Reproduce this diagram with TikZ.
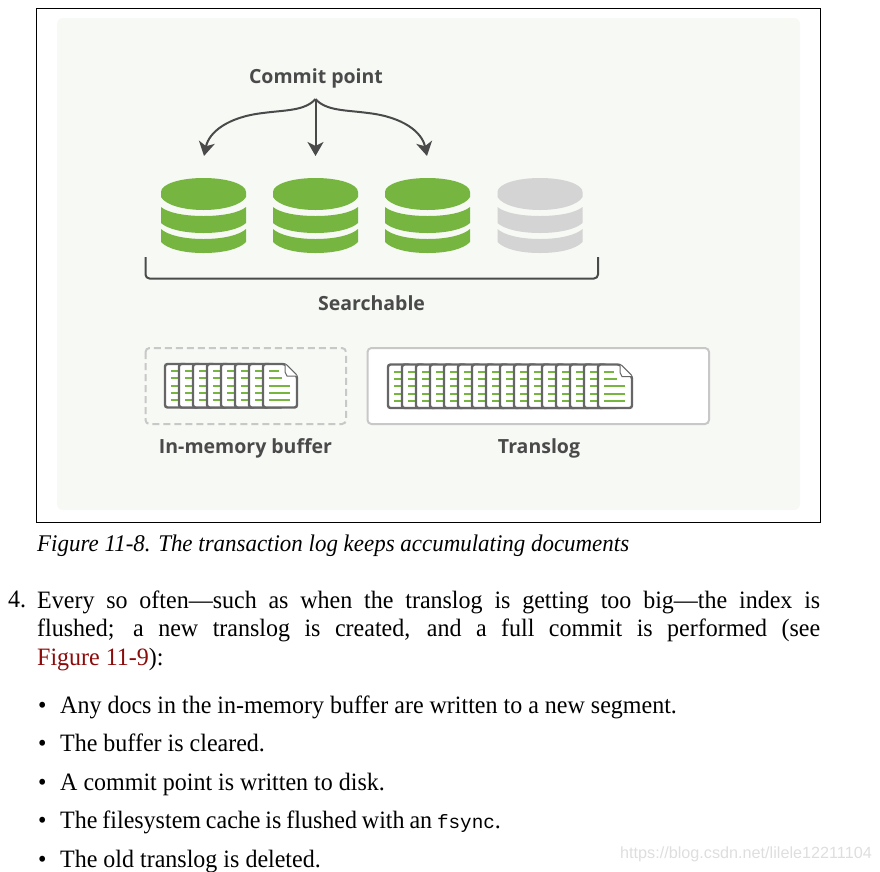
\documentclass[tikz,border=0pt]{standalone}
\usepackage{fontspec}
\setmainfont[FakeStretch=0.96]{Liberation Serif}
\setsansfont{Open Sans}
\setmonofont{Liberation Mono}
\newfontfamily\markfont{Liberation Sans}
\usetikzlibrary{arrows.meta}
\definecolor{panelbg}{HTML}{F7F9F5}
\definecolor{labelgrey}{HTML}{4A4A4A}
\definecolor{leafgreen}{HTML}{76B53F}
\definecolor{pagegrey}{HTML}{666666}
\definecolor{boxgrey}{HTML}{C8C8C8}
\definecolor{linkred}{HTML}{8B0A0A}
\tikzset{
  label/.style={text=labelgrey,font=\sffamily\bfseries\fontsize{19.5}{24}\selectfont,inner sep=0pt},
  body/.style={font=\fontsize{25}{28.6}\selectfont,inner sep=0pt,anchor=base west},
  fork/.style={draw=labelgrey,line width=2pt,-{Stealth[length=14pt,width=16pt,inset=4pt]}},
  holder/.style={draw=boxgrey,line width=2pt,rounded corners=4pt},
  pics/segment/.style={code={
    \fill[#1] (-42.5,14) .. controls (-42.5,6) and (-23.5,0) .. (0,0)
      .. controls (23.5,0) and (42.5,6) .. (42.5,14) -- (42.5,19)
      .. controls (38,27) and (20,32) .. (0,32)
      .. controls (-20,32) and (-38,27) .. (-42.5,19) -- cycle;
    \fill[#1] (-42.5,29) .. controls (-36,34.5) and (-20,38) .. (0,38)
      .. controls (20,38) and (36,34.5) .. (42.5,29) -- (42.5,45)
      .. controls (36,51) and (20,55) .. (0,55)
      .. controls (-20,55) and (-36,51) .. (-42.5,45) -- cycle;
    \fill[#1] (-42.5,51) .. controls (-36,57) and (-20,61) .. (0,61)
      .. controls (20,61) and (36,57) .. (42.5,51) -- (42.5,64)
      .. controls (36,71) and (20,75) .. (0,75)
      .. controls (-20,75) and (-36,71) .. (-42.5,64) -- cycle;
  }},
  pics/doc/.style={code={
    \draw[pagegrey,fill=white,line width=2.4pt,rounded corners=2.5pt]
      (0,0) -- (22,0) -- (34,12) -- (34,43.5) -- (0,43.5) -- cycle;
    \draw[pagegrey,fill=white,line width=1pt] (22,0) -- (22,8) -- (24,12) -- (34,12);
    \draw[leafgreen,line width=2pt] (6,7) -- (16,7) (6,14.3) -- (19,14.3);
    \foreach \y in {21.6,29,36.3}
      \draw[leafgreen,line width=2pt] (6,\y) -- (27,\y);
  }}
}
\begin{document}
\begin{tikzpicture}[x=1pt,y=-1pt]
  \useasboundingbox (0,0) rectangle (880,871);
  \draw[black,line width=1pt] (36.5,8) rectangle (820.5,522);
  \fill[panelbg,rounded corners=6pt] (57,18) rectangle (800,510);

  % commit point and its three arrows
  \node[label] (commit) at (316,78) {Commit point};
  \coordinate (forktop) at (315.5,99);
  \coordinate (segtip1) at (204,156);
  \coordinate (segtip2) at (315.5,156);
  \coordinate (segtip3) at (427,156);
  \coordinate (midleft) at (263,113);
  \coordinate (midright) at (368,113);
  \draw[fork] (forktop) .. controls (305,111) and (285,110) .. (midleft)
    .. controls (228,117) and (209,132) .. (segtip1);
  \draw[fork] (forktop) -- (segtip2);
  \draw[fork] (forktop) .. controls (326,111) and (346,110) .. (midright)
    .. controls (403,117) and (422,132) .. (segtip3);

  % segments
  \foreach \x in {203.5,315.5,427.5}
    \pic at (\x,178) {segment=leafgreen};
  \pic at (540,178) {segment={black!17}};

  \draw[labelgrey,line width=2pt,rounded corners=4pt] (145.5,257) |- (598,278.5) -- (598,257);
  \node[label] (searchable) at (371.5,303) {Searchable};

  % buffer and translog
  \draw[holder,dashed,dash pattern=on 7pt off 4pt] (145.5,348) rectangle (346,424);
  \foreach \i in {0,...,7}
    \pic at (165+14*\i,364) {doc};
  \node[label] (buffer) at (245.5,448) {In-memory buffer};

  \draw[holder,fill=white] (367.5,348) rectangle (709,424);
  \foreach \i in {0,...,15}
    \pic at (388+14*\i,364.5) {doc};
  \node[label] (translog) at (539,448) {Translog};

  % text below the figure
  \node[body,font=\itshape\fontsize{23.9}{28}\selectfont] (caption) at (37,551) {Figure 11-8. The transaction log keeps accumulating documents};
  \node[body] (number) at (8,607) {4.};
  \node[body,anchor=north west,text width=783pt,align=justify] (para) at (37,590.5)
    {Every so often---such as when the translog is getting too big---the index is\linebreak
     flushed; a new translog is created, and a full commit is performed (see\linebreak
     \textcolor{linkred}{Figure 11-9}):};
  \foreach \i/\y/\txt in {1/713/Any docs in the in-memory buffer are written to a new segment.,
      2/751/The buffer is cleared.,
      3/790/A commit point is written to disk.,
      4/828/{\spaceskip=4.9pt The filesystem cache is flushed with an {\ttfamily\fontsize{19.3}{24}\selectfont fsync}.},
      5/867/The old translog is deleted.} {
    \node[body] (dot\i) at (38,\y) {\textbullet};
    \node[body] (item\i) at (60,\y) {\txt};
  }
  \node[text=black!13,font=\markfont\fontsize{16.2}{20}\selectfont,inner sep=0pt,anchor=base east] (mark) at (872,858)
    {https://blog.csdn.net/lilele12211104};
\end{tikzpicture}
\end{document}
